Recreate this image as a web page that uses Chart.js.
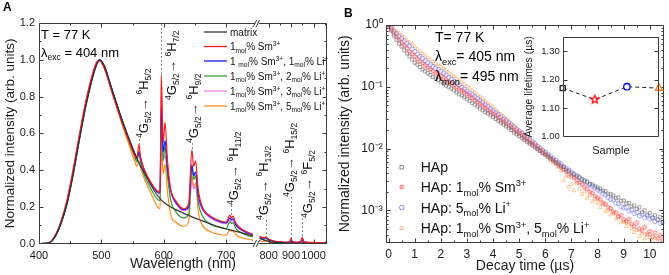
<!DOCTYPE html>
<html>
<head>
<meta charset="utf-8">
<script src="https://cdn.jsdelivr.net/npm/chart.js@4.4.1/dist/chart.umd.min.js"></script>
<style>
  html, body { margin: 0; padding: 0; background: #fff; }
  #wrap { position: relative; width: 669px; height: 275px; overflow: hidden; }
  .box { position: absolute; }
</style>
</head>
<body>
<div id="wrap">
  <div class="box" style="left:0;top:0;width:335px;height:275px"><canvas id="chartA"></canvas></div>
  <div class="box" style="left:335px;top:0;width:334px;height:275px"><canvas id="chartB"></canvas></div>
  <div class="box" style="left:518px;top:28px;width:148px;height:132px"><canvas id="chartC"></canvas></div>
</div>
<script>
// ---- panel A: emission spectra (null = axis break) ----
const wavelengths = [400,415,425,435,445,455,465,475,485,492,497,505,515,525,535,545,552,557,560,563,568,580,590,594,596,599,602,606,611,620,632,640,645,648,651,655,662,675,690,700,706,708.5,711,715,725,735,743,752,760,775,788,800,820,850,880,895,900,905,930,943,950,956,970,1000,1030,1060];
const matrixInt = [0,0.003,0.035,0.11,0.22,0.38,0.57,0.745,0.89,0.97,1.0,0.965,0.86,0.755,0.655,0.565,0.505,0.465,0.44,0.42,0.39,0.315,0.262,0.245,0.238,0.228,0.22,0.21,0.2,0.184,0.165,0.153,0.146,0.142,0.138,0.133,0.124,0.108,0.09,0.08,0.075,0.073,0.071,0.067,0.059,0.05,0.042,null,0.028,0.022,0.017,0.013,0.009,0.006,0.004,0.003,0.003,0.003,0.002,0.002,0.002,0.002,0.001,0.001,0.001,0.001];
const sm1Int = [0,0.004,0.04,0.12,0.24,0.41,0.6,0.775,0.915,0.985,0.995,0.95,0.845,0.74,0.64,0.55,0.49,0.46,0.54,0.47,0.41,0.33,0.285,0.28,0.92,0.55,0.66,0.45,0.3,0.23,0.19,0.22,0.51,0.42,0.45,0.3,0.2,0.15,0.125,0.118,0.155,0.14,0.15,0.115,0.08,0.062,0.05,null,0.04,0.033,0.036,0.026,0.016,0.01,0.008,0.012,0.03,0.01,0.008,0.012,0.035,0.012,0.008,0.007,0.006,0.006];
const sm1Li1Int = [0,0.003,0.035,0.11,0.225,0.39,0.58,0.76,0.9,0.975,1.0,0.965,0.86,0.755,0.655,0.56,0.5,0.465,0.5,0.46,0.405,0.325,0.28,0.275,0.77,0.5,0.56,0.41,0.29,0.22,0.185,0.2,0.43,0.37,0.39,0.27,0.19,0.145,0.12,0.113,0.14,0.13,0.137,0.105,0.075,0.058,0.048,null,0.036,0.03,0.032,0.023,0.014,0.009,0.007,0.01,0.024,0.009,0.007,0.01,0.028,0.01,0.007,0.005,0.005,0.005];
const sm1Li2Int = [0,0.003,0.033,0.105,0.215,0.38,0.57,0.75,0.895,0.97,0.995,0.96,0.855,0.75,0.645,0.55,0.485,0.445,0.5,0.44,0.38,0.295,0.24,0.235,0.7,0.45,0.53,0.37,0.24,0.17,0.14,0.16,0.41,0.35,0.37,0.23,0.15,0.105,0.088,0.082,0.12,0.11,0.115,0.085,0.058,0.044,0.037,null,0.03,0.024,0.027,0.019,0.012,0.007,0.005,0.008,0.02,0.007,0.005,0.008,0.024,0.008,0.005,0.004,0.004,0.004];
const sm1Li3Int = [0,0.003,0.034,0.11,0.22,0.385,0.575,0.755,0.9,0.975,1.0,0.965,0.86,0.755,0.655,0.565,0.5,0.465,0.48,0.455,0.405,0.33,0.285,0.285,0.6,0.46,0.48,0.38,0.28,0.215,0.18,0.19,0.34,0.3,0.31,0.24,0.185,0.14,0.115,0.108,0.13,0.122,0.127,0.1,0.072,0.055,0.047,null,0.034,0.028,0.03,0.021,0.013,0.008,0.006,0.009,0.022,0.008,0.006,0.009,0.026,0.009,0.006,0.005,0.005,0.005];
const sm1Li5Int = [0,0.003,0.035,0.115,0.23,0.4,0.59,0.765,0.905,0.975,0.995,0.955,0.845,0.735,0.63,0.53,0.46,0.42,0.45,0.41,0.36,0.27,0.2,0.19,0.55,0.38,0.43,0.28,0.16,0.115,0.095,0.12,0.37,0.31,0.33,0.18,0.1,0.065,0.05,0.047,0.075,0.068,0.072,0.05,0.032,0.024,0.019,null,0.015,0.012,0.015,0.01,0.006,0.004,0.003,0.006,0.018,0.005,0.003,0.006,0.022,0.006,0.003,0.002,0.002,0.002];
const spectraLabels = ['matrix', '1_{mol}% Sm^{3+}', '1 _{mol}% Sm^{3+}, 1_{mol}% Li^{+}', '1_{mol}% Sm^{3+}, 2_{mol}% Li^{+}', '1_{mol}% Sm^{3+}, 3_{mol}% Li^{+}', '1_{mol}% Sm^{3+}, 5_{mol}% Li^{+}'];
const wlTicks = [400, 500, 600, 700, 800, 900, 1000];
const intTicks = [0, 0.2, 0.4, 0.6, 0.8, 1.0, 1.2];

// ---- panel B: decay curves, log10 of normalized intensity ----
const decayTime = [0,0.1,0.2,0.3,0.4,0.5,0.6,0.7,0.8,0.9,1,1.1,1.2,1.3,1.4,1.5,1.6,1.7,1.8,1.9,2,2.1,2.2,2.3,2.4,2.5,2.6,2.7,2.8,2.9,3,3.1,3.2,3.3,3.4,3.5,3.6,3.7,3.8,3.9,4,4.1,4.2,4.3,4.4,4.5,4.6,4.7,4.8,4.9,5,5.1,5.2,5.3,5.4,5.5,5.6,5.7,5.8,5.9,6,6.1,6.2,6.3,6.4,6.5,6.6,6.7,6.8,6.9,7,7.1,7.2,7.3,7.4,7.5,7.6,7.7,7.8,7.9,8,8.1,8.2,8.3,8.4,8.5,8.6,8.7,8.8,8.9,9,9.1,9.2,9.3,9.4,9.5,9.6,9.7,9.8,9.9,10,10.1,10.2,10.3,10.4,10.5];
const hapLog = [
0,-0.09,-0.17,-0.24,-0.30,-0.35,-0.41,-0.46,-0.51,-0.56,
-0.61,-0.64,-0.68,-0.72,-0.75,-0.78,-0.81,-0.84,-0.87,-0.89,
-0.92,-0.95,-0.98,-1.00,-1.03,-1.06,-1.09,-1.12,-1.14,-1.17,
-1.20,-1.23,-1.26,-1.29,-1.32,-1.35,-1.38,-1.41,-1.43,-1.46,
-1.49,-1.52,-1.55,-1.58,-1.61,-1.64,-1.67,-1.70,-1.74,-1.77,
-1.80,-1.83,-1.86,-1.89,-1.92,-1.95,-1.98,-2.01,-2.04,-2.07,
-2.10,-2.13,-2.16,-2.18,-2.22,-2.24,-2.28,-2.30,-2.34,-2.36,
-2.40,-2.42,-2.45,-2.47,-2.50,-2.52,-2.54,-2.57,-2.58,-2.61,
-2.63,-2.65,-2.68,-2.69,-2.73,-2.74,-2.76,-2.80,-2.79,-2.85,
-2.84,-2.89,-2.88,-2.94,-2.92,-2.98,-2.95,-3.03,-3.00,-3.07,
-3.04,-3.12,-3.08,-3.15,-3.11,-3.19];
const hapSmLog = [
0,-0.07,-0.13,-0.19,-0.24,-0.28,-0.33,-0.38,-0.43,-0.47,
-0.51,-0.55,-0.59,-0.62,-0.66,-0.69,-0.72,-0.75,-0.78,-0.80,
-0.83,-0.86,-0.89,-0.92,-0.95,-0.98,-1.01,-1.04,-1.06,-1.09,
-1.12,-1.15,-1.18,-1.22,-1.25,-1.28,-1.31,-1.34,-1.38,-1.41,
-1.44,-1.47,-1.50,-1.54,-1.57,-1.60,-1.63,-1.66,-1.70,-1.73,
-1.76,-1.79,-1.83,-1.86,-1.90,-1.93,-1.96,-2.00,-2.03,-2.07,
-2.10,-2.13,-2.17,-2.20,-2.24,-2.27,-2.30,-2.34,-2.37,-2.42,
-2.45,-2.47,-2.52,-2.55,-2.58,-2.62,-2.65,-2.70,-2.72,-2.77,
-2.80,-2.82,-2.88,-2.90,-2.95,-2.97,-3.02,-3.04,-3.10,-3.08,
-3.15,-3.18,-3.14,-3.22,-3.26,-3.20,-3.30,-3.33,-3.27,-3.38,
-3.34,-3.42,-3.36,-3.45,-3.40,-3.48];
const hapLiLog = [
0,-0.05,-0.10,-0.14,-0.18,-0.22,-0.26,-0.30,-0.34,-0.39,
-0.43,-0.47,-0.51,-0.54,-0.58,-0.61,-0.64,-0.67,-0.70,-0.72,
-0.75,-0.78,-0.81,-0.85,-0.88,-0.91,-0.94,-0.97,-1.01,-1.04,
-1.07,-1.10,-1.13,-1.16,-1.19,-1.22,-1.25,-1.29,-1.32,-1.36,
-1.39,-1.42,-1.45,-1.49,-1.52,-1.55,-1.58,-1.62,-1.65,-1.69,
-1.72,-1.75,-1.79,-1.82,-1.86,-1.89,-1.92,-1.96,-1.99,-2.03,
-2.06,-2.09,-2.12,-2.16,-2.19,-2.22,-2.25,-2.29,-2.32,-2.35,
-2.38,-2.41,-2.44,-2.46,-2.50,-2.52,-2.55,-2.58,-2.61,-2.64,
-2.67,-2.69,-2.73,-2.75,-2.79,-2.82,-2.83,-2.88,-2.89,-2.94,
-2.96,-2.95,-3.01,-2.99,-3.05,-3.03,-3.09,-3.06,-3.12,-3.09,
-3.14,-3.12,-3.18,-3.15,-3.21,-3.19];
const hapSmLiLog = [
0,-0.03,-0.06,-0.10,-0.13,-0.16,-0.20,-0.24,-0.28,-0.31,
-0.35,-0.39,-0.43,-0.46,-0.50,-0.53,-0.56,-0.59,-0.62,-0.64,
-0.67,-0.70,-0.73,-0.77,-0.80,-0.83,-0.86,-0.89,-0.93,-0.96,
-0.99,-1.02,-1.06,-1.09,-1.13,-1.16,-1.19,-1.23,-1.26,-1.30,
-1.33,-1.37,-1.41,-1.44,-1.48,-1.52,-1.55,-1.59,-1.63,-1.66,
-1.70,-1.73,-1.77,-1.81,-1.84,-1.88,-1.91,-1.95,-1.99,-2.02,
-2.06,-2.10,-2.14,-2.19,-2.24,-2.30,-2.36,-2.52,-2.45,-2.62,
-2.58,-2.68,-2.56,-2.66,-2.74,-2.70,-2.80,-2.76,-2.86,-2.82,
-2.88,-2.95,-2.90,-3.02,-3.00,-3.07,-3.05,-3.14,-3.10,-3.20,
-3.18,-3.26,-3.22,-3.30,-3.36,-3.32,-3.42,-3.38,-3.46,-3.40,
-3.44,-3.50,-3.45,-3.55,-3.48,-3.56];
const decayLabels = ['HAp', 'HAp: 1_{mol}% Sm^{3+}', 'HAp: 5_{mol}% Li^{+}', 'HAp: 1_{mol}% Sm^{3+}, 5_{mol}% Li^{+}'];
const timeTicks = [0, 1, 2, 3, 4, 5, 6, 7, 8, 9, 10];
const decadeTicks = [1, 0.1, 0.01, 0.001];
const decadeLabels = ['10⁰', '10⁻¹', '10⁻²', '10⁻³'];

// ---- inset: average lifetimes ----
const sampleNo = [1, 2, 3, 4];
const avgLifetime = [1.17, 1.13, 1.175, 1.17];

const FONT = "'Liberation Sans', Arial, sans-serif";
Chart.defaults.font.family = FONT;
Chart.defaults.color = '#1a1a1a';

// axis break: squeeze everything beyond 750 nm
const wlBreak = 750, wlSqueeze = 0.36;
function toU(w) { return w <= wlBreak ? w : wlBreak + (w - wlBreak) * wlSqueeze; }
function fromU(u) { return u <= wlBreak ? u : wlBreak + (u - wlBreak) / wlSqueeze; }

// text with _{sub} and ^{sup}
function parseRich(str) {
  const parts = [];
  const re = /([_^])\{([^}]*)\}/g;
  let last = 0, m;
  while ((m = re.exec(str))) {
    if (m.index > last) parts.push({ t: str.slice(last, m.index), k: '' });
    parts.push({ t: m[2], k: m[1] === '_' ? 'sub' : 'sup' });
    last = re.lastIndex;
  }
  if (last < str.length) parts.push({ t: str.slice(last), k: '' });
  return parts;
}
function drawRich(ctx, str, x, y, size) {
  const parts = parseRich(str);
  const small = size * 0.66;
  ctx.textAlign = 'left';
  ctx.textBaseline = 'alphabetic';
  let cx = x;
  parts.forEach(p => {
    ctx.font = (p.k ? small : size) + 'px ' + FONT;
    const dy = p.k === 'sub' ? size * 0.26 : p.k === 'sup' ? -size * 0.4 : 0;
    ctx.fillText(p.t, cx, y + dy);
    cx += ctx.measureText(p.t).width;
  });
  return cx - x;
}

function starPoint(r, color) {
  const c = document.createElement('canvas');
  const s = Math.ceil(r * 2 + 3);
  c.width = s; c.height = s;
  const g = c.getContext('2d');
  g.strokeStyle = color; g.lineWidth = r > 3 ? 1.3 : 0.9;
  g.beginPath();
  for (let i = 0; i < 10; i++) {
    const rr = i % 2 ? r * 0.45 : r;
    const a = -Math.PI / 2 + i * Math.PI / 5;
    const px = s / 2 + rr * Math.cos(a), py = s / 2 + rr * Math.sin(a);
    i ? g.lineTo(px, py) : g.moveTo(px, py);
  }
  g.closePath();
  g.stroke();
  return c;
}

function drawMarker(ctx, style, x, y, r, color) {
  if (style === 'star') { const c = starPoint(r, color); ctx.drawImage(c, x - c.width / 2, y - c.height / 2); return; }
  ctx.strokeStyle = color; ctx.lineWidth = 0.9;
  ctx.beginPath();
  if (style === 'rect') ctx.rect(x - r * 0.75, y - r * 0.75, r * 1.5, r * 1.5);
  else if (style === 'circle') ctx.arc(x, y, r, 0, Math.PI * 2);
  else { ctx.moveTo(x, y - r); ctx.lineTo(x + r * 0.87, y + r / 2); ctx.lineTo(x - r * 0.87, y + r / 2); ctx.closePath(); }
  ctx.stroke();
}

// frame round the plot area with inward ticks on all four sides
const frameTicks = {
  id: 'frameTicks',
  afterDraw(chart, args, o) {
    if (!o || !o.on) return;
    const { ctx, chartArea: a } = chart;
    const xs = chart.scales.x, ys = chart.scales.y;
    const L = Math.round(a.left) + 0.5, R = Math.round(a.right) - 0.5, T = Math.round(a.top) + 0.5, B = Math.round(a.bottom) - 0.5;
    ctx.save();
    ctx.strokeStyle = '#3a3a3a';
    ctx.lineWidth = 1;
    ctx.beginPath();
    ctx.rect(L, T, R - L, B - T);
    const seg = (x1, y1, x2, y2) => { ctx.moveTo(x1, y1); ctx.lineTo(x2, y2); };
    const xMarks = (vals, len) => vals.forEach(v => {
      const p = Math.round(xs.getPixelForValue(v)) + 0.5;
      if (p < L - 0.1 || p > R + 0.1) return;
      seg(p, B, p, B - len);
      seg(p, T, p, T + len);
    });
    const yMarks = (vals, len) => vals.forEach(v => {
      const p = Math.round(ys.getPixelForValue(v)) + 0.5;
      if (p < T - 0.1 || p > B + 0.1) return;
      seg(L, p, L + len, p); seg(R, p, R - len, p);
    });
    if (o.xTicks !== false) { xMarks(xs.ticks.map(t => t.value), 4); xMarks(o.xMinor || [], 2); }
    yMarks(ys.ticks.map(t => t.value), 4);
    yMarks(o.yMinor || [], 2);
    ctx.stroke();
    if (o.breakAt != null) {
      const p = xs.getPixelForValue(o.breakAt);
      [B, T].forEach(yy => {
        ctx.fillStyle = '#fff';
        ctx.fillRect(p - 2.5, yy - 1.5, 4, 3);
        ctx.beginPath();
        seg(p - 4.5, yy + 3.5, p - 1, yy - 3.5);
        seg(p - 1.5, yy + 3.5, p + 2, yy - 3.5);
        ctx.stroke();
      });
    }
    ctx.restore();
  }
};
Chart.register(frameTicks);

const noGrid = { display: false, drawTicks: false };

const spectraColors = ['#333333', '#ff1a1a', '#1a1aff', '#2e9b3a', '#f07cf0', '#ff8c1a'];
const spectraSeries = [matrixInt, sm1Int, sm1Li1Int, sm1Li2Int, sm1Li3Int, sm1Li5Int];

const transitionsA = [
  { wl: 560, y0: 139, y1: 145, yb: 138, dx: 4, text: '^{4}G_{5/2}→ ^{6}H_{5/2}' },
  { wl: 596, y0: 24, y1: 76, yb: 100, dx: 10, text: '^{4}G_{5/2}→ ^{6}H_{7/2}' },
  { wl: 645, y0: 143, y1: 153, yb: 143, dx: 1, text: '^{4}G_{5/2}→ ^{6}H_{9/2}' },
  { wl: 708, y0: 205, y1: 215, yb: 205, dx: 2, text: '^{4}G_{5/2}→ ^{6}H_{11/2}' },
  { wl: 788, y0: 220, y1: 238, yb: 220, dx: -3, text: '^{4}G_{5/2}→ ^{6}H_{13/2}' },
  { wl: 900, y0: 197, y1: 238, yb: 197, dx: -2, text: '^{4}G_{5/2}→ ^{6}H_{15/2}' },
  { wl: 950, y0: 218, y1: 236, yb: 218, dx: 5, text: '^{4}G_{5/2}→ ^{6}F_{5/2}' }
];

const notesA = {
  id: 'notesA',
  afterDraw(chart) {
    const ctx = chart.ctx, xs = chart.scales.x;
    ctx.save();
    ctx.fillStyle = '#000';
    ctx.font = 'bold 12px ' + FONT;
    ctx.textBaseline = 'alphabetic';
    ctx.fillText('A', 3, 11);
    drawRich(ctx, 'T = 77 K', 41, 39, 13);
    drawRich(ctx, 'λ_{exc} = 404 nm', 41, 57, 13);
    ctx.strokeStyle = '#8a8a8a';
    ctx.lineWidth = 1;
    ctx.setLineDash([2, 2]);
    transitionsA.forEach(tr => {
      const x = Math.round(xs.getPixelForValue(toU(tr.wl))) + 0.5;
      ctx.beginPath(); ctx.moveTo(x, tr.y0); ctx.lineTo(x, tr.y1); ctx.stroke();
    });
    ctx.setLineDash([]);
    ctx.fillStyle = '#111';
    transitionsA.forEach(tr => {
      const x = xs.getPixelForValue(toU(tr.wl)) + tr.dx;
      ctx.save();
      ctx.translate(x, tr.yb);
      ctx.rotate(-Math.PI / 2);
      drawRich(ctx, tr.text, 0, 13 * 0.36, 13);
      ctx.restore();
    });
    const rows = [32, 46.5, 61, 76, 91, 106];
    spectraLabels.forEach((lab, i) => {
      ctx.strokeStyle = spectraColors[i];
      ctx.lineWidth = 1.3;
      ctx.beginPath(); ctx.moveTo(204, rows[i]); ctx.lineTo(227, rows[i]); ctx.stroke();
      ctx.fillStyle = '#111';
      drawRich(ctx, lab, 230, rows[i] + 3.5, 10);
    });
    ctx.restore();
  }
};

new Chart(document.getElementById('chartA'), {
  type: 'line',
  data: {
    datasets: spectraSeries.map((s, i) => ({
      label: spectraLabels[i],
      data: wavelengths.map((w, j) => ({ x: toU(w), y: s[j] })),
      borderColor: spectraColors[i],
      borderWidth: 1.2,
      pointRadius: 0,
      cubicInterpolationMode: 'monotone',
      spanGaps: false
    }))
  },
  options: {
    responsive: true, maintainAspectRatio: false, animation: false,
    layout: { padding: { top: 23, right: 8, left: 0, bottom: 0 } },
    plugins: {
      legend: { display: false }, tooltip: { enabled: false },
      frameTicks: { on: true, xMinor: [450, 550, 650, 850, 950, 1050].map(toU), yMinor: [0.1, 0.3, 0.5, 0.7, 0.9, 1.1], breakAt: toU(751) }
    },
    scales: {
      x: {
        type: 'linear', min: 400, max: toU(1060),
        grid: noGrid, border: { display: false },
        afterBuildTicks: ax => { ax.ticks = wlTicks.map(w => ({ value: toU(w) })); },
        ticks: { callback: v => String(Math.round(fromU(v))), font: { size: 11 }, padding: 6, maxRotation: 0, autoSkip: false },
        title: { display: true, text: 'Wavelength (nm)', font: { size: 14 }, padding: { top: 0, bottom: 2 } },
        afterFit: s => { s.height = 31.3; }
      },
      y: {
        min: 0, max: 1.2,
        grid: noGrid, border: { display: false },
        afterBuildTicks: ax => { ax.ticks = intTicks.map(v => ({ value: v })); },
        ticks: { callback: v => v.toFixed(1), font: { size: 11 }, padding: 4 },
        title: { display: true, text: 'Normalized intensity (arb. units)', font: { size: 13.5 }, padding: { top: 2, bottom: 0 } },
        afterFit: s => { s.width = 39; }
      }
    }
  },
  plugins: [notesA]
});

// ---- panel B ----
const decayLogs = [hapLog, hapSmLog, hapLiLog, hapSmLiLog];
const decayStyles = ['rect', 'star', 'circle', 'triangle'];
const decayColors = ['rgba(105,105,105,0.75)', 'rgba(255,50,50,0.6)', 'rgba(80,80,255,0.55)', 'rgba(255,150,60,0.6)'];
const decayLegendColors = ['#777', '#ff5a5a', '#7a7aff', '#ffab66'];

const minorLog = [];
[1e-4, 1e-3, 1e-2, 1e-1].forEach(d => { for (let k = 2; k <= 9; k++) minorLog.push(d * k); });

const notesB = {
  id: 'notesB',
  afterDraw(chart) {
    const ctx = chart.ctx;
    ctx.save();
    ctx.fillStyle = '#000';
    ctx.font = 'bold 12px ' + FONT;
    ctx.textBaseline = 'alphabetic';
    ctx.fillText('B', 9, 17);
    drawRich(ctx, 'T= 77 K', 100, 42, 14);
    drawRich(ctx, 'λ_{exc}= 405 nm', 100, 61, 14);
    drawRich(ctx, 'λ_{mon}= 495 nm', 100, 81, 14);
    const rows = [167.3, 187, 207.5, 228.3];
    decayLabels.forEach((lab, i) => {
      drawMarker(ctx, decayStyles[i], 66.7, rows[i], 2.3, decayLegendColors[i]);
      ctx.fillStyle = '#111';
      drawRich(ctx, lab, 85.7, rows[i] + 5, 14);
    });
    ctx.restore();
  }
};

const smallStar = starPoint(2.6, 'rgba(255,50,50,0.6)');

new Chart(document.getElementById('chartB'), {
  type: 'scatter',
  data: {
    datasets: decayLogs.map((lg, i) => ({
      label: decayLabels[i],
      data: decayTime.map((t, j) => ({ x: t, y: Math.pow(10, lg[j]) })),
      showLine: false,
      pointStyle: decayStyles[i] === 'star' ? smallStar : decayStyles[i],
      pointRadius: 2.2,
      pointBorderWidth: 0.8,
      pointBorderColor: decayColors[i],
      pointBackgroundColor: 'rgba(0,0,0,0)'
    }))
  },
  options: {
    responsive: true, maintainAspectRatio: false, animation: false,
    layout: { padding: { top: 25, right: 2.3, left: 0, bottom: 0 } },
    plugins: {
      legend: { display: false }, tooltip: { enabled: false },
      frameTicks: { on: true, xMinor: [0.5, 1.5, 2.5, 3.5, 4.5, 5.5, 6.5, 7.5, 8.5, 9.5, 10.5], yMinor: minorLog }
    },
    scales: {
      x: {
        type: 'linear', min: -0.11, max: 10.55,
        grid: noGrid, border: { display: false },
        afterBuildTicks: ax => { ax.ticks = timeTicks.map(v => ({ value: v })); },
        ticks: { font: { size: 12 }, padding: 5, maxRotation: 0, autoSkip: false },
        title: { display: true, text: 'Decay time (µs)', font: { size: 14 }, padding: { top: 0, bottom: 0 } },
        afterFit: s => { s.height = 32.3; }
      },
      y: {
        type: 'logarithmic', min: 3.47e-4, max: 1,
        grid: noGrid, border: { display: false },
        afterBuildTicks: ax => { ax.ticks = decadeTicks.map(v => ({ value: v })); },
        ticks: { callback: (v) => decadeLabels[decadeTicks.indexOf(v)], font: { size: 12 }, padding: 3 },
        title: { display: true, text: 'Normalized intensity (arb. units)', font: { size: 14 }, padding: { top: 2, bottom: 0 } },
        afterFit: s => { s.width = 50.7; }
      }
    }
  },
  plugins: [notesB]
});

// ---- inset ----
new Chart(document.getElementById('chartC'), {
  type: 'line',
  data: {
    datasets: [{
      data: sampleNo.map((s, i) => ({ x: s, y: avgLifetime[i] })),
      borderColor: '#222',
      borderWidth: 1,
      borderDash: [4, 3],
      pointStyle: ['rect', starPoint(4.2, '#ff0000'), 'circle', 'triangle'],
      pointRadius: [3.6, 4.2, 3.2, 4.2],
      pointBorderWidth: 1.3,
      pointBorderColor: ['#222', '#ff0000', '#0000ff', '#ff8000'],
      pointBackgroundColor: '#fff',
      clip: false
    }]
  },
  options: {
    responsive: true, maintainAspectRatio: false, animation: false,
    layout: { padding: { top: 8.7, right: 7, left: 0, bottom: 0 } },
    plugins: {
      legend: { display: false }, tooltip: { enabled: false },
      frameTicks: { on: true, xTicks: false }
    },
    scales: {
      x: {
        type: 'linear', min: 1, max: 4,
        grid: noGrid, border: { display: false },
        ticks: { display: false },
        title: { display: true, text: 'Sample', font: { size: 11 }, padding: { top: 0, bottom: 2.4 } },
        afterFit: s => { s.height = 23.3; }
      },
      y: {
        min: 1.0, max: 1.35,
        grid: noGrid, border: { display: false },
        ticks: { stepSize: 0.05, callback: v => v.toFixed(2), font: { size: 9.5 }, padding: 3 },
        title: { display: true, text: 'Average lifetimes (µs)', font: { size: 10.5 }, padding: { top: 5, bottom: 0 } },
        afterFit: s => { s.width = 44.7; }
      }
    }
  }
});
</script>
</body>
</html>
